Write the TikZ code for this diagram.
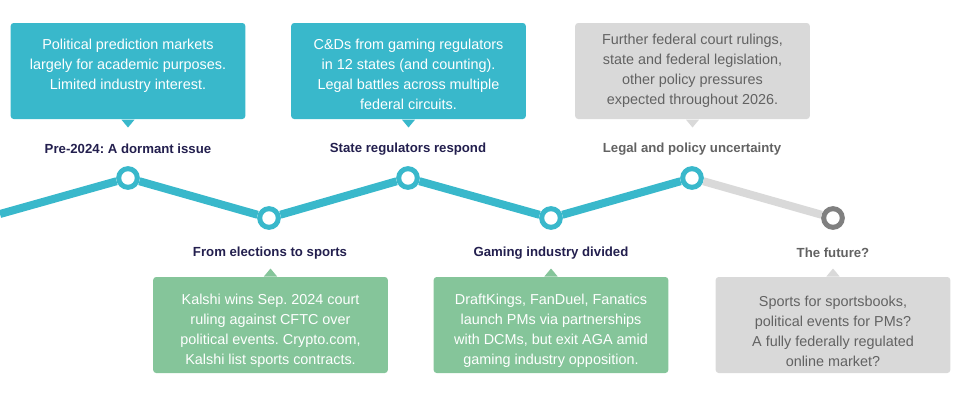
\documentclass[tikz,border=0pt]{standalone}
\usepackage{fontspec}
\setmainfont{Liberation Sans}
\frenchspacing
\definecolor{tealbox}{RGB}{57,184,203}
\definecolor{greenbox}{RGB}{133,197,154}
\definecolor{greybox}{RGB}{217,217,217}
\definecolor{greytext}{RGB}{98,98,98}
\definecolor{navytext}{RGB}{35,31,78}
\definecolor{greyring}{RGB}{128,128,128}
\newcommand{\notetext}[2]{\raisebox{#1}[0pt][0pt]{\parbox{176pt}{\centering #2}}}
\tikzset{every picture/.style={line width=0.75pt}}
\tikzset{
  note/.style={rounded corners=2.25pt, minimum width=176pt, minimum height=72pt,
    inner sep=0pt, font=\fontsize{10.8}{15}\selectfont},
  tealnote/.style={note, fill=tealbox, text=white},
  greennote/.style={note, fill=greenbox, text=white},
  greynote/.style={note, fill=greybox, text=greytext},
  stage/.style={font=\fontsize{9.9}{12}\selectfont\bfseries, text=navytext, inner sep=0.75pt},
  greystage/.style={stage, text=greytext},
  milestone/.style={circle, draw=tealbox, line width=3.75pt, fill=white, minimum size=14pt, inner sep=0pt},
  greymilestone/.style={milestone, draw=greyring},
  trackline/.style={draw=tealbox, line width=6pt},
}

\begin{document}
\begin{tikzpicture}[x=0.75pt,y=0.75pt,yscale=-1,xscale=1]
    \path[use as bounding box] (0,0) rectangle (966,418);

    %Track
    \coordinate (start) at (0,214);
    \node[milestone] (m1) at (128,178) {};
    \node[milestone] (m2) at (269,218) {};
    \node[milestone] (m3) at (408,178) {};
    \node[milestone] (m4) at (551,218) {};
    \node[milestone] (m5) at (692,178) {};
    \node[greymilestone] (m6) at (833,218) {};
    \draw[trackline] (start) -- (m1) (m1) -- (m2) (m2) -- (m3) (m3) -- (m4) (m4) -- (m5);
    \draw[trackline, draw=greybox] (m5) -- (m6);

    %Upper notes
    \node[tealnote] (n1) at (128,71) {\notetext{-5pt}{Political prediction markets\\largely for academic purposes.\\Limited industry interest.\\\mbox{}}};
    \node[tealnote] (n3) at (408.5,71) {\notetext{-5pt}{C\&Ds from gaming regulators\\in 12 states (and counting).\\Legal battles across multiple\\federal circuits.}};
    \node[greynote] (n5) at (692.5,71) {\notetext{-2.7pt}{Further federal court rulings,\\state and federal legislation,\\other policy pressures\\expected throughout 2026.}};
    \foreach \n/\c in {n1/tealbox,n3/tealbox,n5/greybox}
      \fill[\c] ([xshift=-5pt]\n.south) -- ([xshift=5pt]\n.south) -- ([yshift=6pt]\n.south) -- cycle;

    %Lower notes
    \node[greennote] (n2) at (270.5,325) {\notetext{-7.2pt}{Kalshi wins Sep. 2024 court\\ruling against CFTC over\\political events. Crypto.com,\\Kalshi list sports contracts.}};
    \node[greennote] (n4) at (551,325) {\notetext{-7.2pt}{DraftKings, FanDuel, Fanatics\\launch PMs via partnerships\\with DCMs, but exit AGA amid\\gaming industry opposition.}};
    \node[greynote] (n6) at (833,325) {\notetext{-7.2pt}{Sports for sportsbooks,\\political events for PMs?\\A fully federally regulated\\online market?}};
    \foreach \n/\c in {n2/greenbox,n4/greenbox,n6/greybox}
      \fill[\c] ([xshift=-5pt]\n.north) -- ([xshift=5pt]\n.north) -- ([yshift=-6pt]\n.north) -- cycle;

    % Text Node
    \node[stage] (s1) at (128,149) {Pre-2024: A dormant issue};
    \node[stage] (s2) at (270,253) {From elections to sports};
    \node[stage] (s3) at (408,149) {State regulators respond};
    \node[stage] (s4) at (551,253) {Gaming industry divided};
    \node[greystage] (s5) at (692,149) {Legal and policy uncertainty};
    \node[greystage] (s6) at (833,253) {The future?};

\end{tikzpicture}
\end{document}
